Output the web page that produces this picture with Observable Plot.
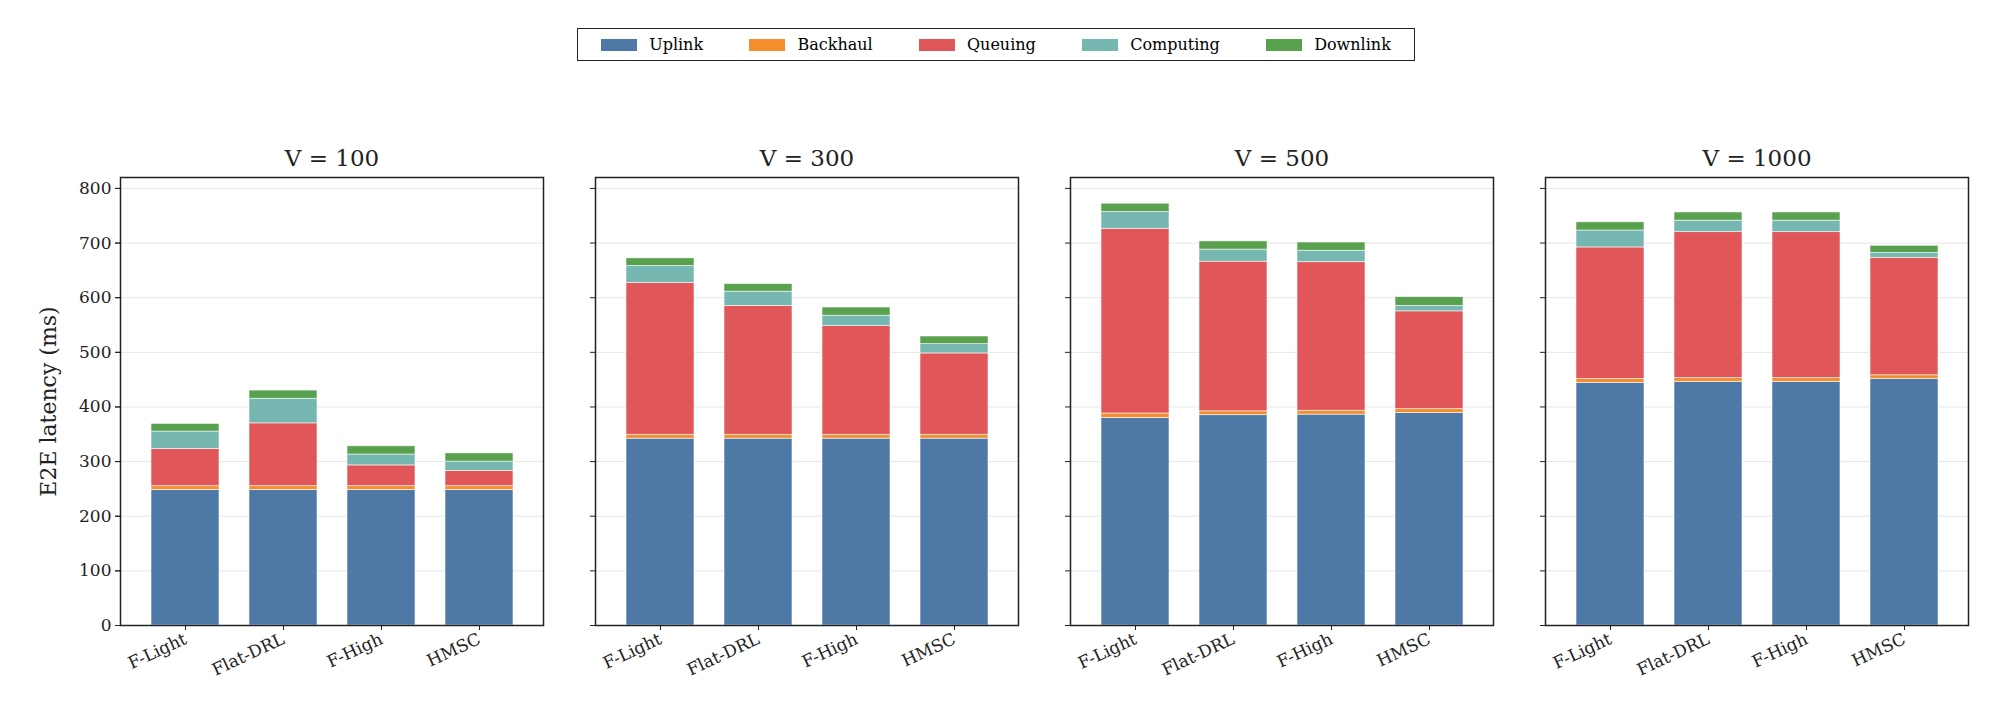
<!DOCTYPE html>
<html><head><meta charset="utf-8">
<script src="https://cdn.jsdelivr.net/npm/d3@7"></script>
<script src="https://cdn.jsdelivr.net/npm/@observablehq/plot@0.6"></script>
<style>
body{margin:0;background:#fff;font-family:"DejaVu Serif",serif;}
#wrap{position:relative;width:1989px;height:713px;}
#legend{position:absolute;left:577px;top:28px;width:838px;height:33px;border:1.5px solid #222;box-sizing:border-box;display:flex;align-items:center;justify-content:space-around;font-size:16px;}
#legend span{display:inline-flex;align-items:center;}
#legend i{display:inline-block;width:36px;height:12px;margin-right:12px;}
</style></head><body>
<div id="wrap"><div id="legend"></div><div id="chart"></div></div>
<script>
const methods = ["F-Light","Flat-DRL","F-High","HMSC"];
const vLabels = ["V = 100","V = 300","V = 500","V = 1000"];
const components = ["Uplink","Backhaul","Queuing","Computing","Downlink"];
const colors = ["#4e79a7","#f28e2b","#e15759","#76b7b2","#59a14f"];
// per V, per method
const uplink    = [[248,248,248,248],[342,342,342,342],[380,385,386,389],[444,446,446,451]];
const backhaul  = [[7,7,7,7],[7,7,7,7],[8,7,7,7],[7,7,7,7]];
const queuing   = [[68,115,38,28],[278,236,199,149],[338,274,272,179],[241,267,267,215]];
const computing = [[32,45,20,17],[31,26,19,17],[31,22,21,10],[31,21,21,9]];
const downlink  = [[14,15,15,15],[14,14,15,14],[15,15,15,16],[15,15,15,13]];
const yTicks = [0,100,200,300,400,500,600,700,800];

const series = [uplink,backhaul,queuing,computing,downlink];
const rows = [];
vLabels.forEach((V,vi)=>methods.forEach((m,mi)=>components.forEach((c,ci)=>rows.push({V,method:m,comp:c,value:series[ci][vi][mi]}))));

const leg = document.getElementById("legend");
components.forEach((c,i)=>{const s=document.createElement("span");s.innerHTML=`<i style="background:${colors[i]}"></i>${c}`;leg.appendChild(s);});

const chart = Plot.plot({
  width:1989, height:713,
  marginTop:177, marginBottom:88, marginLeft:119, marginRight:20,
  style:{fontFamily:"DejaVu Serif, serif", fontSize:"17px", color:"#222"},
  fx:{domain:vLabels, paddingInner:0.11, paddingOuter:0, label:null, axis:null},
  x:{domain:methods, padding:0.31, label:null, tickRotate:-25, tickSize:5},
  y:{domain:[0,820], ticks:yTicks, label:"E2E latency (ms)", grid:false},
  color:{domain:components, range:colors},
  marks:[
    Plot.ruleY(yTicks,{stroke:"#e6e6e6", strokeWidth:1}),
    Plot.barY(rows,{x:"method", y:"value", fx:"V", fill:"comp", order:components, stroke:"white", strokeWidth:0.8, strokeOpacity:0.7}),
    Plot.axisY({ticks:yTicks, tickFormat:()=>"", label:null, facetAnchor:null, tickSize:5}),
    Plot.axisY({ticks:yTicks, label:"E2E latency (ms)", labelAnchor:"center", labelArrow:"none", labelOffset:80, tickSize:5, fontSize:17}),
    Plot.axisFx({anchor:"top", label:null, tickSize:0, tickPadding:12, fontSize:23}),
    Plot.frame({stroke:"#222", strokeWidth:1.5})
  ]
});
chart.querySelectorAll('[aria-label="y-axis label"] text').forEach(t=>t.style.fontSize="22px");
document.getElementById("chart").appendChild(chart);
</script></body></html>
